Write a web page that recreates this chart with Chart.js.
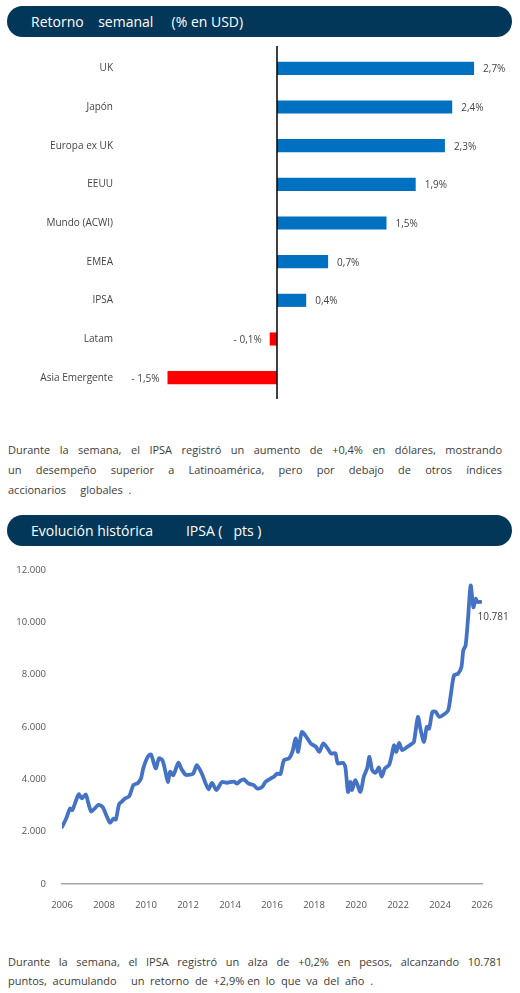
<!DOCTYPE html>
<html>
<head>
<meta charset="utf-8">
<script src="https://cdn.jsdelivr.net/npm/chart.js@4"></script>
<style>
  body { margin: 0; background: #fff; width: 520px; height: 993px; position: relative; font-family: "Open Sans", sans-serif; overflow: hidden; }
  .head { position: absolute; left: 7px; width: 505px; height: 31px; background: #03375a; border-radius: 16px; color: #fff; font-size: 14px; line-height: 31px; white-space: pre; }
  .head span { position: absolute; left: 24px; }
  .para { position: absolute; left: 8px; width: 494px; color: #3c3c3c; font-size: 11px; }
  .para div { white-space: nowrap; }
  .para .full { white-space: normal; text-align: justify; text-align-last: justify; }
  canvas { position: absolute; left: 0; }
</style>
</head>
<body>
<div class="head" style="top:6px"><span>Retorno    semanal     (% en USD)</span></div>
<canvas id="barChart" style="top:33px" width="520" height="380"></canvas>

<div class="para" style="top:440px; line-height:20px">
  <div class="full">Durante la semana, el IPSA registró un aumento de +0,4% en dólares, mostrando</div>
  <div class="full">un desempeño superior a Latinoamérica, pero por debajo de otros índices</div>
  <div style="white-space:pre">accionarios     globales  .</div>
</div>

<div class="head" style="top:515px"><span>Evolución histórica         IPSA (   pts )</span></div>
<canvas id="lineChart" style="top:550px" width="520" height="370"></canvas>

<div class="para" style="top:953px; line-height:18.5px">
  <div class="full">Durante la semana, el IPSA registró un alza de +0,2% en pesos, alcanzando 10.781</div>
  <div style="white-space:pre">puntos,  acumulando     un  retorno  de  +2,9% en  lo  que  va  del  año  .</div>
</div>

<script>
const barLabels = ['UK', 'Japón', 'Europa ex UK', 'EEUU', 'Mundo (ACWI)', 'EMEA', 'IPSA', 'Latam', 'Asia Emergente']
const barValues = [2.7, 2.4, 2.3, 1.9, 1.5, 0.7, 0.4, -0.1, -1.5]

const ipsaDates = [
  2006.00, 2006.20, 2006.38, 2006.49, 2006.65, 2006.80, 2006.94, 2007.13, 2007.25, 2007.39,
  2007.55, 2007.73, 2007.93, 2008.14, 2008.29, 2008.45, 2008.56, 2008.72, 2008.85, 2009.00,
  2009.20, 2009.40, 2009.60, 2009.76, 2009.87, 2010.08, 2010.24, 2010.46, 2010.62, 2010.78,
  2010.91, 2011.04, 2011.15, 2011.30, 2011.54, 2011.70, 2011.90, 2012.10, 2012.25, 2012.42,
  2012.66, 2012.82, 2012.98, 2013.14, 2013.35, 2013.50, 2013.62, 2013.86, 2014.18, 2014.34,
  2014.50, 2014.65, 2014.89, 2015.13, 2015.29, 2015.53, 2015.69, 2015.93, 2016.09, 2016.25,
  2016.40, 2016.57, 2016.81, 2016.97, 2017.13, 2017.24, 2017.42, 2017.61, 2017.85, 2018.09,
  2018.25, 2018.44, 2018.65, 2018.81, 2019.02, 2019.13, 2019.37, 2019.49, 2019.62, 2019.73,
  2019.81, 2019.97, 2020.21, 2020.37, 2020.53, 2020.64, 2020.77, 2020.93, 2021.09, 2021.22,
  2021.38, 2021.57, 2021.70, 2021.81, 2021.92, 2022.05, 2022.20, 2022.44, 2022.68, 2022.76,
  2022.95, 2023.08, 2023.24, 2023.37, 2023.48, 2023.64, 2023.79, 2023.96, 2024.20, 2024.39,
  2024.51, 2024.67, 2024.86, 2025.02, 2025.11, 2025.22, 2025.34, 2025.46, 2025.59, 2025.70,
  2025.78, 2025.93
]
const ipsaValues = [
  2180, 2500, 2880, 2830, 3150, 3430, 3270, 3420, 3100, 2770,
  2880, 3020, 2950, 2570, 2340, 2500, 2460, 3050, 3150, 3270,
  3350, 3780, 3850, 4030, 4420, 4860, 4950, 4420, 4800, 4730,
  4350, 3900, 4290, 4160, 4630, 4380, 4170, 4180, 4220, 4540,
  4220, 3880, 3620, 3860, 3590, 3760, 3900, 3870, 3910, 3840,
  3950, 4000, 3840, 3780, 3650, 3710, 3900, 4030, 4100, 4220,
  4200, 4730, 4800, 5050, 5560, 5050, 5810, 5650, 5370, 5240,
  5050, 5370, 5180, 4990, 4990, 4610, 4630, 4480, 3520, 3900,
  3590, 3970, 3520, 4100, 4420, 4860, 4350, 4250, 4450, 4100,
  4420, 4540, 4920, 5300, 5050, 5390, 5120, 5240, 5370, 5430,
  6380, 5880, 5430, 6000, 5940, 6580, 6580, 6390, 6490, 6640,
  7210, 7980, 8040, 8290, 8930, 9120, 10200, 11410, 10580, 10900,
  10780, 10781
]
const yearTicks = [2006, 2008, 2010, 2012, 2014, 2016, 2018, 2020, 2022, 2024, 2026]

const fmtPct = v => (v < 0 ? '- ' : '') + Math.abs(v).toFixed(1).replace('.', ',') + '%'
const fmtThousands = v => String(Math.round(v)).replace(/\B(?=(\d{3})+(?!\d))/g, '.')

// zero line and bar value labels
const barExtras = {
  id: 'barExtras',
  afterDatasetsDraw(chart) {
    const ctx = chart.ctx
    const x0 = chart.scales.x.getPixelForValue(0)
    const area = chart.chartArea
    ctx.save()
    ctx.strokeStyle = '#000'
    ctx.lineWidth = 1.5
    ctx.beginPath()
    ctx.moveTo(x0, area.top - 3)
    ctx.lineTo(x0, area.bottom + 2)
    ctx.stroke()
    ctx.font = '10px "Open Sans"'
    ctx.fillStyle = '#444'
    ctx.textBaseline = 'middle'
    chart.getDatasetMeta(0).data.forEach((bar, i) => {
      const v = barValues[i]
      if (v >= 0) {
        ctx.textAlign = 'left'
        ctx.fillText(fmtPct(v), bar.x + 9, bar.y + 1)
      } else {
        ctx.textAlign = 'right'
        ctx.fillText(fmtPct(v), bar.x - 8, bar.y + 1)
      }
    })
    ctx.restore()
  }
}

new Chart(document.getElementById('barChart'), {
  type: 'bar',
  data: {
    labels: barLabels,
    datasets: [{
      data: barValues,
      backgroundColor: barValues.map(v => v < 0 ? '#ff0000' : '#0070c0'),
      categoryPercentage: 1,
      barPercentage: 0.34
    }]
  },
  options: {
    indexAxis: 'y',
    responsive: false,
    animation: false,
    layout: { padding: { top: 8, bottom: 9, right: 24, left: 0 } },
    plugins: { legend: { display: false }, tooltip: { enabled: false } },
    scales: {
      x: { display: false, min: -2, max: 3 },
      y: {
        afterFit: s => { s.width = 131 },
        grid: { display: false },
        border: { display: false },
        ticks: { color: '#444', font: { family: 'Open Sans', size: 10 }, padding: 10 }
      }
    }
  },
  plugins: [barExtras]
})

// end label on the last point
const endLabel = {
  id: 'endLabel',
  afterDatasetsDraw(chart) {
    const pts = chart.getDatasetMeta(0).data
    const last = pts[pts.length - 1]
    const ctx = chart.ctx
    ctx.save()
    ctx.font = '10px "Open Sans"'
    ctx.fillStyle = '#404040'
    ctx.textAlign = 'left'
    ctx.textBaseline = 'middle'
    ctx.fillText(fmtThousands(ipsaValues[ipsaValues.length - 1]), last.x - 3, last.y + 15)
    ctx.restore()
  }
}

new Chart(document.getElementById('lineChart'), {
  type: 'line',
  data: {
    datasets: [{
      data: ipsaDates.map((d, i) => ({ x: d, y: ipsaValues[i] })),
      borderColor: '#4472c4',
      borderWidth: 3.8,
      pointRadius: 0,
      tension: 0.25,
      borderCapStyle: 'round',
      borderJoinStyle: 'round'
    }]
  },
  options: {
    responsive: false,
    animation: false,
    layout: { padding: { top: 20, right: 38, bottom: 0, left: 0 } },
    plugins: { legend: { display: false }, tooltip: { enabled: false } },
    scales: {
      x: {
        type: 'linear',
        min: 2006,
        max: 2026,
        afterFit: s => { s.height = 36 },
        afterBuildTicks: s => { s.ticks = yearTicks.map(v => ({ value: v })) },
        grid: { display: false },
        border: { display: true, color: '#a6a6a6', width: 1.5 },
        ticks: { color: '#555', font: { family: 'Open Sans', size: 9.5 }, padding: 8, callback: v => String(v) }
      },
      y: {
        min: 0,
        max: 12000,
        afterFit: s => { s.width = 62 },
        grid: { display: false },
        border: { display: false },
        ticks: { stepSize: 2000, color: '#555', font: { family: 'Open Sans', size: 9.5 }, padding: 8, callback: v => fmtThousands(v) }
      }
    }
  },
  plugins: [endLabel]
})
</script>
</body>
</html>
